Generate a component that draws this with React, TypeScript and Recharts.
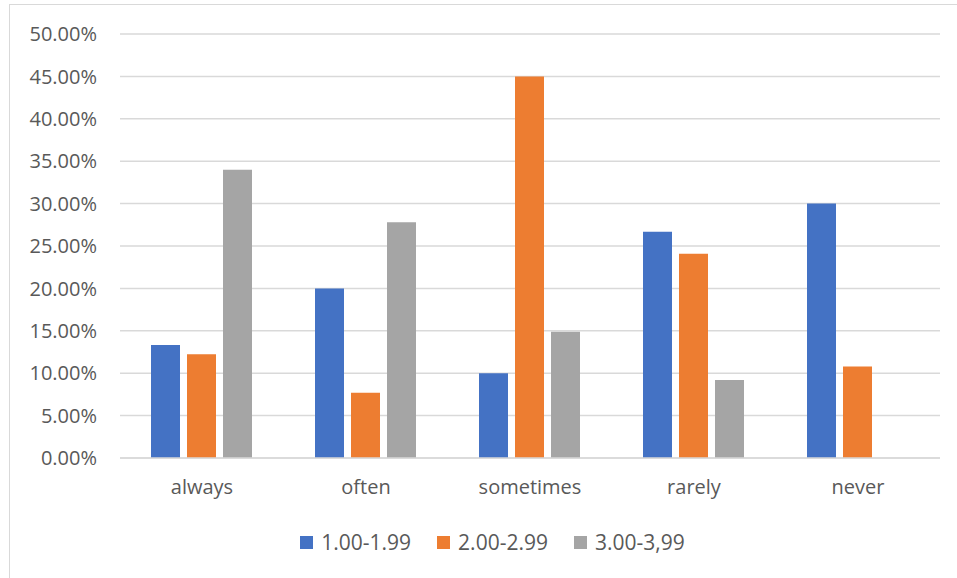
import React from "react"
import { BarChart, Bar, XAxis, YAxis, CartesianGrid, Legend } from "recharts"

const categories = ["always", "often", "sometimes", "rarely", "never"]
const lowScores = [13.33, 20.0, 10.0, 26.67, 30.0]
const midScores = [12.24, 7.69, 45.0, 24.1, 10.8]
const highScores = [34.0, 27.8, 14.9, 9.2, 0]
const yTicks = [0, 5, 10, 15, 20, 25, 30, 35, 40, 45, 50]

const seriesNames = ["1.00-1.99", "2.00-2.99", "3.00-3,99"]
const seriesColors = ["#4472C4", "#ED7D31", "#A5A5A5"]

const data = categories.map((c, i) => ({
  name: c,
  low: lowScores[i],
  mid: midScores[i],
  high: highScores[i],
}))

const font = "'Open Sans', 'Noto Sans', sans-serif"
const textColor = "#595959"

const LegendRow = (props: any) => {
  const items = props.payload || []
  return (
    <div style={{ display: "flex", justifyContent: "center", fontFamily: font, fontSize: 21, color: textColor, height: 28, alignItems: "center", paddingLeft: 28 }}>
      {items.map((it: any, i: number) => (
        <div key={i} style={{ display: "flex", alignItems: "center", marginRight: i < items.length - 1 ? 26 : 0 }}>
          <span style={{ width: 13, height: 13, background: it.color, display: "inline-block", marginRight: 8 }} />
          <span>{it.value}</span>
        </div>
      ))}
    </div>
  )
}

export default function App() {
  return (
    <div style={{ position: "absolute", left: 0, top: 0, width: 957, height: 578, overflow: "hidden", background: "#fff" }}>
      <div style={{ position: "absolute", left: 9, top: 4, width: 1000, height: 640, border: "1px solid #d9d9d9" }} />
      <div style={{ position: "absolute", left: 0, top: 0 }}>
        <BarChart
          width={957}
          height={578}
          data={data}
          margin={{ top: 34, right: 17, bottom: 0, left: 0 }}
          barCategoryGap={31}
          barGap={7}
        >
          <CartesianGrid vertical={false} stroke="#d9d9d9" strokeWidth={1.5} />
          <XAxis
            dataKey="name"
            axisLine={{ stroke: "#d9d9d9", strokeWidth: 1.5 }}
            tickLine={false}
            tickSize={0}
            tickMargin={22}
            height={92}
            tick={{ fill: textColor, fontSize: 20, fontFamily: font }}
          />
          <YAxis
            domain={[0, 50]}
            ticks={yTicks}
            interval={0}
            width={120}
            axisLine={false}
            tickLine={false}
            tickSize={0}
            tickMargin={23}
            tickFormatter={(v: number) => v.toFixed(2) + "%"}
            tick={{ fill: textColor, fontSize: 20, fontFamily: font }}
          />
          <Legend
            content={<LegendRow />}
            verticalAlign="bottom"
            wrapperStyle={{ position: "absolute", top: 528, left: 0, width: 957 }}
          />
          <Bar dataKey="low" name={seriesNames[0]} fill={seriesColors[0]} isAnimationActive={false} />
          <Bar dataKey="mid" name={seriesNames[1]} fill={seriesColors[1]} isAnimationActive={false} />
          <Bar dataKey="high" name={seriesNames[2]} fill={seriesColors[2]} isAnimationActive={false} />
        </BarChart>
      </div>
    </div>
  )
}
